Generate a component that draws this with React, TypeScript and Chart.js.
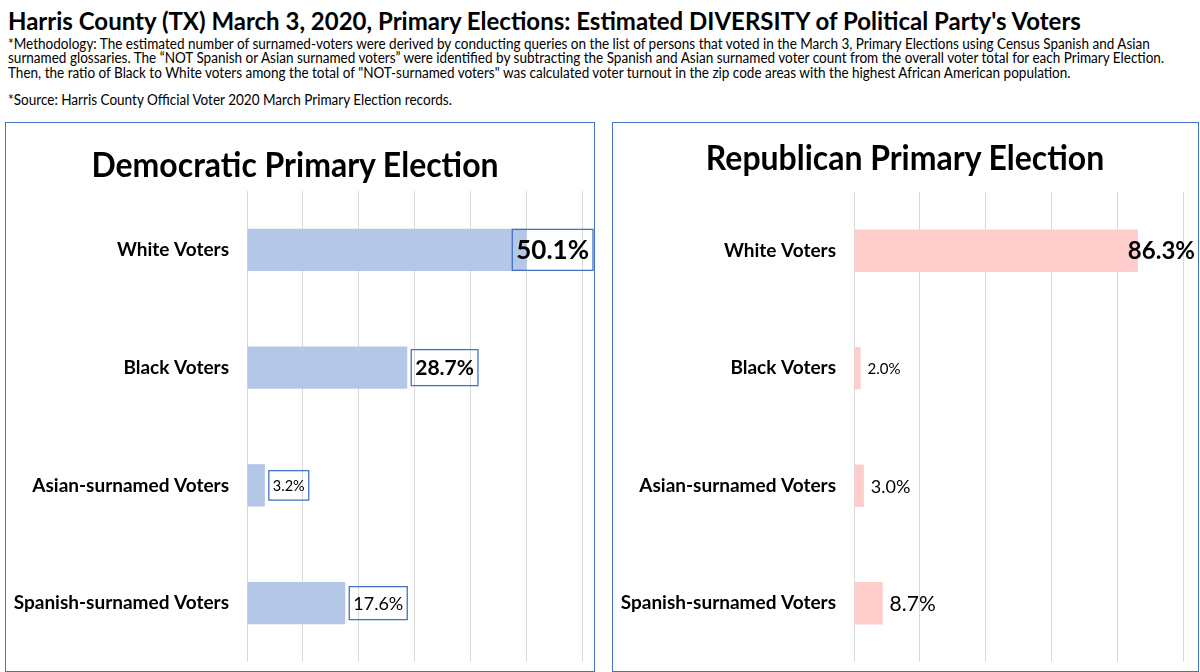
import React, { useEffect, useRef } from "react";
import { Chart, registerables } from "chart.js";

Chart.register(...registerables);

const categories = [
  "White Voters",
  "Black Voters",
  "Asian-surnamed Voters",
  "Spanish-surnamed Voters",
];
const democraticValues = [50.1, 28.7, 3.2, 17.6];
const republicanValues = [86.3, 2.0, 3.0, 8.7];
const democraticAxis = { min: 0, max: 60, step: 10 };
const republicanAxis = { min: 0, max: 100, step: 20 };

const mainTitle =
  "Harris County (TX) March 3, 2020, Primary Elections: Estimated DIVERSITY of Political Party's Voters";
const methodologyLines = [
  "*Methodology: The estimated number of surnamed-voters were derived by conducting queries on the list of persons that voted in the March 3, Primary Elections using Census Spanish and Asian",
  "surnamed glossaries. The \u201cNOT Spanish or Asian surnamed voters\u201d were identified by subtracting the Spanish and Asian surnamed voter count from the overall voter total for each Primary Election.",
  "Then, the ratio of Black to White voters among the total of \"NOT-surnamed voters\" was calculated voter turnout in the zip code areas with the highest African American population.",
];
const sourceLine = "*Source: Harris County Official Voter 2020 March Primary Election records.";
const demTitle = "Democratic Primary Election";
const repTitle = "Republican Primary Election";

const FONT = "Lato, 'Open Sans', sans-serif";

// label styles (not data)
const demLabelStyles = [
  { size: 26, bold: true },
  { size: 21, bold: true },
  { size: 14.5, bold: false },
  { size: 18, bold: false },
];
const repLabelStyles = [
  { size: 24, bold: true },
  { size: 15, bold: false },
  { size: 18, bold: false },
  { size: 21, bold: false },
];

const barLabelPlugin = {
  id: "barLabels",
  afterDatasetsDraw(chart: any, _args: any, opts: any) {
    const { ctx } = chart;
    const meta = chart.getDatasetMeta(0);
    const ds = chart.data.datasets[0];
    meta.data.forEach((bar: any, i: number) => {
      const st = opts.styles[i];
      const text = Number(ds.data[i]).toFixed(1) + "%";
      ctx.save();
      ctx.font = `${st.bold ? "bold " : ""}${st.size}px ${FONT}`;
      const tw = ctx.measureText(text).width;
      const padX = opts.boxed ? 4 : 0;
      const w = tw + padX * 2;
      let left = bar.x + opts.gap;
      const maxRight = chart.width - opts.rightLimit;
      if (left + w > maxRight) left = maxRight - w;
      const y = bar.y;
      if (opts.boxed) {
        const h = st.size + 15;
        ctx.strokeStyle = "#4472C4";
        ctx.lineWidth = 1.3;
        ctx.strokeRect(left, y - h / 2, w, h);
      }
      ctx.fillStyle = "#000";
      ctx.textBaseline = "middle";
      ctx.textAlign = "left";
      ctx.fillText(text, left + padX, y + 1);
      ctx.restore();
    });
  },
};

function makeConfig(p: {
  values: number[];
  color: string;
  axis: { min: number; max: number; step: number };
  padTop: number;
  styles: any[];
  boxed: boolean;
  gap: number;
  padRight: number;
  rightLimit: number;
}): any {
  return {
    type: "bar",
    data: {
      labels: categories,
      datasets: [
        {
          data: p.values,
          backgroundColor: p.color,
          borderWidth: 0,
          barPercentage: 0.36,
          categoryPercentage: 1,
        },
      ],
    },
    plugins: [barLabelPlugin],
    options: {
      indexAxis: "y",
      animation: false,
      responsive: false,
      maintainAspectRatio: false,
      layout: {
        autoPadding: false,
        padding: { left: 0, right: p.padRight, top: p.padTop, bottom: 9 },
      },
      plugins: {
        legend: { display: false },
        tooltip: { enabled: false },
        title: { display: false },
        barLabels: {
          styles: p.styles,
          boxed: p.boxed,
          gap: p.gap,
          rightLimit: p.rightLimit,
        },
      },
      scales: {
        x: {
          min: p.axis.min,
          max: p.axis.max,
          ticks: { display: false, stepSize: p.axis.step },
          grid: { color: "#D9D9D9", lineWidth: 1, drawTicks: false },
          border: { display: false },
          afterFit: (s: any) => {
            s.height = 0;
            s.paddingLeft = 0;
            s.paddingRight = 0;
          },
        },
        y: {
          ticks: {
            color: "#000",
            font: { family: FONT, size: 19, weight: "bold" },
            padding: 18,
          },
          grid: { display: false, drawTicks: false },
          border: { display: false },
          afterFit: (s: any) => {
            s.width = 241;
            s.paddingTop = 0;
            s.paddingBottom = 0;
          },
        },
      },
    },
  };
}

function Panel(props: {
  left: number;
  width: number;
  config: any;
  title: string;
  titleCenter: number;
  titleTop: number;
}) {
  const ref = useRef<HTMLCanvasElement | null>(null);
  useEffect(() => {
    if (!ref.current) return;
    const chart = new Chart(ref.current, props.config);
    return () => chart.destroy();
  }, []);
  return (
    <>
      <div
        style={{
          position: "absolute",
          left: props.left - 1,
          top: 122,
          width: props.width + 2,
          height: 550,
          border: "1.5px solid #4472C4",
          boxSizing: "border-box",
        }}
      />
      <div
        style={{
          position: "absolute",
          left: props.left,
          top: 123,
          width: props.width,
          height: 548,
        }}
      >
        <canvas ref={ref} width={props.width} height={548} style={{ display: "block" }} />
      </div>
      <div
        style={{
          position: "absolute",
          left: props.titleCenter - 300,
          width: 600,
          top: props.titleTop,
          textAlign: "center",
          fontFamily: FONT,
          fontWeight: "bold",
          fontSize: 34,
          lineHeight: 1,
          whiteSpace: "nowrap",
          color: "#000",
          transform: "scaleX(0.94)",
          transformOrigin: "center",
        }}
      >
        {props.title}
      </div>
    </>
  );
}

export default function App() {
  const demConfig = makeConfig({
    values: democraticValues,
    color: "#B4C7E7",
    axis: democraticAxis,
    padTop: 68,
    styles: demLabelStyles,
    boxed: true,
    gap: 4,
    padRight: 12,
    rightLimit: 1,
  });
  const repConfig = makeConfig({
    values: republicanValues,
    color: "#FFCCCC",
    axis: republicanAxis,
    padTop: 69,
    styles: repLabelStyles,
    boxed: false,
    gap: 7,
    padRight: 15,
    rightLimit: 3,
  });
  const textBase: React.CSSProperties = {
    position: "absolute",
    left: 8,
    whiteSpace: "nowrap",
    fontFamily: FONT,
    color: "#000",
    lineHeight: 1,
  };
  const small: React.CSSProperties = {
    ...textBase,
    fontSize: 14.5,
    transform: "scaleX(0.933)",
    transformOrigin: "left",
  };
  return (
    <div
      style={{
        position: "fixed",
        left: 0,
        top: 0,
        width: 1200,
        height: 672,
        background: "#fff",
        overflow: "hidden",
      }}
    >
      <div style={{ ...textBase, top: 9, fontSize: 24, fontWeight: "bold" }}>{mainTitle}</div>
      {methodologyLines.map((l, i) => (
        <div key={i} style={{ ...small, top: 37 + i * 14.3 }}>
          {l}
        </div>
      ))}
      <div style={{ ...small, top: 93 }}>{sourceLine}</div>
      <Panel left={6} width={588} config={demConfig} title={demTitle} titleCenter={295} titleTop={147} />
      <Panel left={613} width={585} config={repConfig} title={repTitle} titleCenter={905} titleTop={140} />
    </div>
  );
}
